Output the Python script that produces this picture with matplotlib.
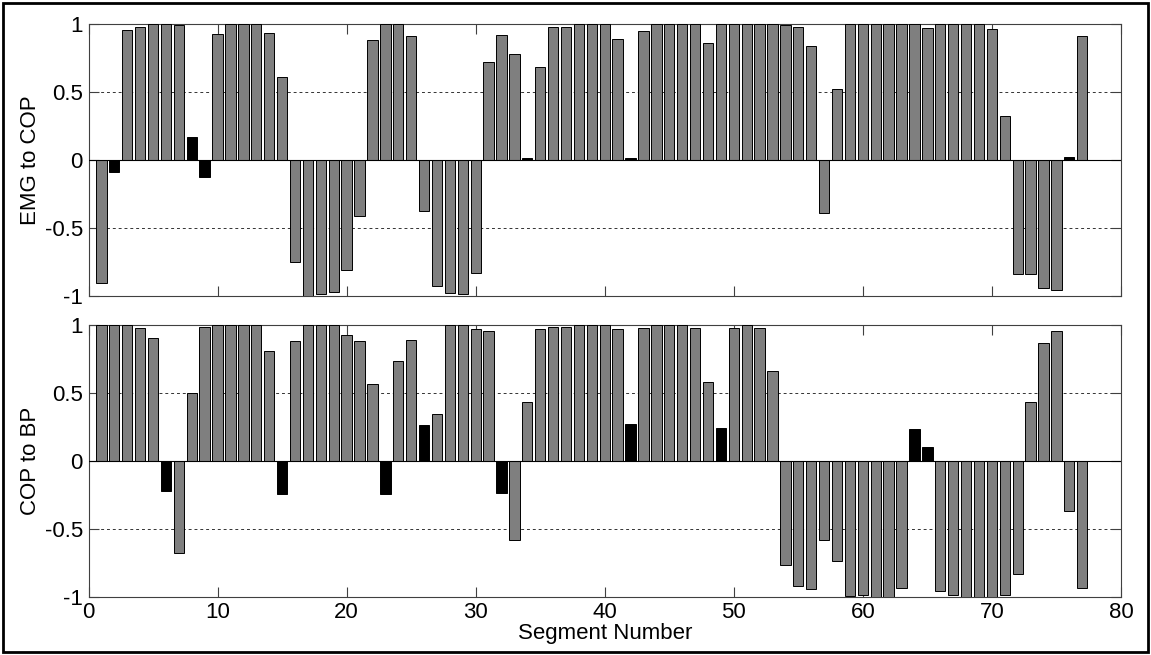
import numpy as np
import matplotlib.pyplot as plt
from matplotlib.patches import Rectangle

plt.rcParams['font.family'] = ['Liberation Sans', 'DejaVu Sans']
plt.rcParams['font.size'] = 16

# correlation per segment
emg_cop = [-0.91, -0.09, 0.955, 0.98, 1.0, 1.0, 0.995, 0.167, -0.13, 0.925,
           1.0, 1.0, 1.0, 0.93, 0.61, -0.75, -1.0, -0.99, -0.97, -0.81,
           -0.415, 0.88, 1.0, 1.0, 0.915, -0.375, -0.93, -0.98, -0.99, -0.83,
           0.72, 0.92, 0.78, 0.015, 0.685, 0.98, 0.98, 1.0, 1.0, 1.0,
           0.89, 0.01, 0.95, 1.0, 1.0, 1.0, 1.0, 0.86, 1.0, 1.0,
           1.0, 1.0, 1.0, 0.99, 0.975, 0.84, -0.39, 0.52, 1.0, 1.0,
           1.0, 1.0, 1.0, 1.0, 0.97, 1.0, 1.0, 1.0, 1.0, 0.96,
           0.32, -0.84, -0.84, -0.94, -0.96, 0.02, 0.91]

cop_bp = [1.0, 1.0, 1.0, 0.975, 0.905, -0.225, -0.675, 0.50, 0.983, 1.0,
          1.0, 1.0, 1.0, 0.806, -0.246, 0.885, 1.0, 1.0, 1.0, 0.93,
          0.885, 0.563, -0.246, 0.737, 0.89, 0.263, 0.346, 1.0, 1.0, 0.968,
          0.953, -0.233, -0.585, 0.43, 0.968, 0.983, 0.983, 1.0, 1.0, 1.0,
          0.968, 0.273, 0.975, 1.0, 1.0, 1.0, 0.98, 0.577, 0.24, 0.975,
          1.0, 0.98, 0.66, -0.77, -0.92, -0.946, -0.585, -0.737, -0.993, -0.99,
          -1.0, -1.0, -0.936, 0.233, 0.103, -0.96, -0.99, -1.0, -1.0, -1.0,
          -0.985, -0.836, 0.43, 0.87, 0.953, -0.37, -0.936]

segments = np.arange(1, len(emg_cop) + 1)
panels = [('EMG to COP', emg_cop), ('COP to BP', cop_bp)]
thresh = 0.3   # weak correlations drawn black

fig = plt.figure(figsize=(11.51, 6.55), dpi=100)
positions = [[0.0769, 0.5486, 0.897, 0.4148], [0.0769, 0.0890, 0.897, 0.4148]]

for i, (name, vals) in enumerate(panels):
    ax = fig.add_axes(positions[i])
    vals = np.array(vals)
    colors = np.where(np.abs(vals) < thresh, 'black', '#7f7f7f')
    ax.bar(segments, vals, width=0.8, color=colors, edgecolor='black',
           linewidth=0.7, zorder=3)
    ax.axhline(0, color='black', linewidth=0.8, zorder=4)
    for g in (-0.5, 0.5):
        ax.axhline(g, color='#333333', linewidth=0.7, linestyle=(0, (3, 3)),
                   zorder=1)
    ax.set_xlim(0, 80)
    ax.set_ylim(-1, 1)
    ax.set_xticks(np.arange(0, 81, 10))
    ax.set_yticks([-1, -0.5, 0, 0.5, 1])
    ax.set_yticklabels(['-1', '-0.5', '0', '0.5', '1'])
    ax.tick_params(direction='in', length=7, width=0.8, top=True, right=True,
                   color='#404040', pad=4)
    for s in ax.spines.values():
        s.set_color('#404040')
        s.set_linewidth(0.8)
    ax.set_ylabel(name, labelpad=3)
    if i == 0:
        ax.set_xticklabels([])
    else:
        ax.set_xlabel('Segment Number', labelpad=0)

# outer frame
fig.patches.append(Rectangle((0.003, 0.004), 0.994, 0.992, transform=fig.transFigure,
                             fill=False, edgecolor='black', linewidth=2))

fig.savefig('out.png', dpi=100)
